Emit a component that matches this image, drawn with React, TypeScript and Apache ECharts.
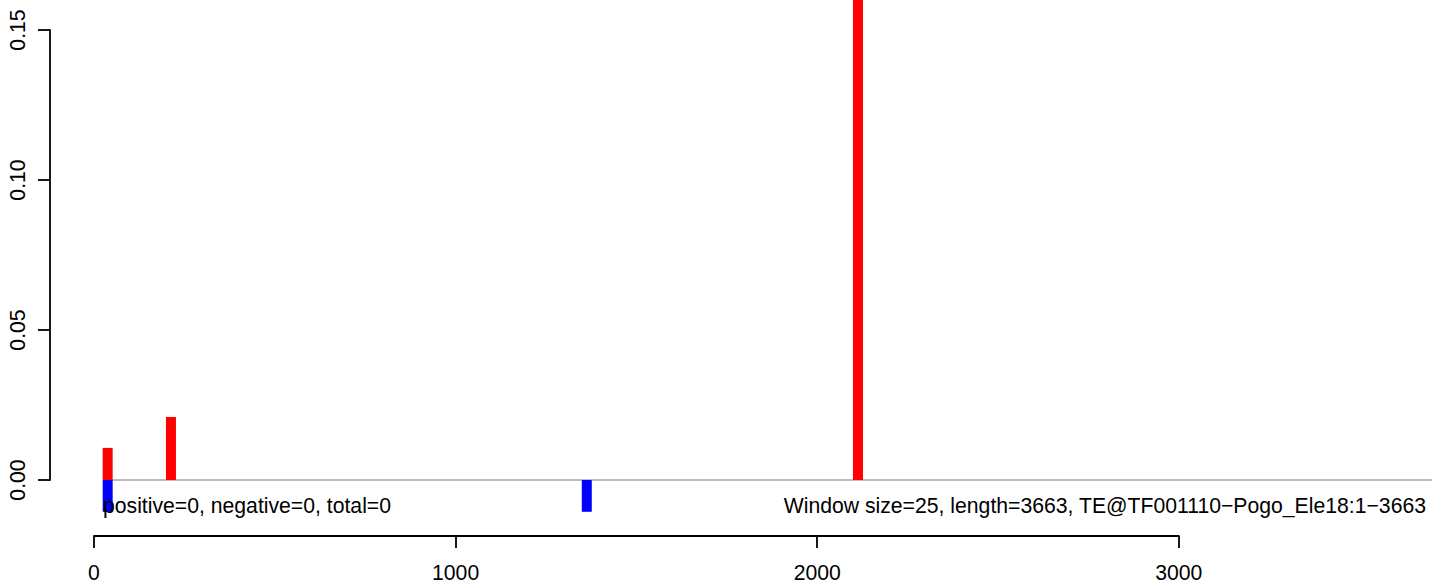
import React, { useEffect, useRef } from "react";
import * as echarts from "echarts";

// window centers (window size = 25)
const positivePositions = [37.5, 212.5, 2112.5];
const positiveValues = [0.0107, 0.021, 0.2];
const negativePositions = [37.5, 1362.5];
const negativeValues = [-0.0106, -0.0106];
const baselineRange = [25, 3700];
const xTicks = [0, 1000, 2000, 3000];
const yTicks = [0, 0.05, 0.1, 0.15];
const leftNote = "positive=0, negative=0, total=0";
const rightNote = "Window size=25, length=3663, TE@TF001110\u2212Pogo_Ele18:1\u22123663";

const FONT = "'Liberation Sans', Arial, Helvetica, sans-serif";
const FS = 21.2;

export default function App() {
  const ref = useRef<HTMLDivElement>(null);
  useEffect(() => {
    if (!ref.current) return;
    const chart = echarts.init(ref.current, undefined, { renderer: "svg" });
    const axisStyle = { color: "#000", width: 1.8 };
    chart.setOption({
      animation: false,
      backgroundColor: "#ffffff",
      grid: [
        { left: 50, right: 3, top: 0, height: 540 },
        { left: 50, width: 1, top: 30, height: 450 },
        { left: 94, width: 1084.8, top: 500, height: 36 },
      ],
      xAxis: [
        { gridIndex: 0, type: "value", min: -122, max: 3700, show: false },
        { gridIndex: 1, type: "value", min: 0, max: 1, show: false },
        {
          gridIndex: 2,
          type: "value",
          min: xTicks[0],
          max: xTicks[xTicks.length - 1],
          interval: 1000,
          position: "bottom",
          axisLine: { show: true, lineStyle: axisStyle },
          axisTick: { show: true, length: 12, lineStyle: axisStyle },
          axisLabel: {
            show: true,
            margin: 26,
            fontSize: FS,
            color: "#000",
            fontFamily: FONT,
            formatter: (v: number) => String(v),
          },
          splitLine: { show: false },
        },
      ],
      yAxis: [
        { gridIndex: 0, type: "value", min: -0.02, max: 0.16, show: false },
        {
          gridIndex: 1,
          type: "value",
          min: yTicks[0],
          max: yTicks[yTicks.length - 1],
          interval: 0.05,
          position: "left",
          axisLine: { show: true, lineStyle: axisStyle },
          axisTick: { show: true, length: 12, lineStyle: axisStyle },
          axisLabel: {
            show: true,
            rotate: 90,
            margin: 22,
            fontSize: FS,
            color: "#000",
            fontFamily: FONT,
            formatter: (v: number) => v.toFixed(2),
          },
          splitLine: { show: false },
        },
        { gridIndex: 2, type: "value", min: 0, max: 1, show: false },
      ],
      series: [
        {
          type: "line",
          xAxisIndex: 0,
          yAxisIndex: 0,
          data: [
            [baselineRange[0], 0],
            [baselineRange[1], 0],
          ],
          symbol: "none",
          lineStyle: { color: "#a6a6a6", width: 1.6 },
          silent: true,
          z: 1,
        },
        {
          type: "bar",
          xAxisIndex: 0,
          yAxisIndex: 0,
          data: positivePositions.map((x, i) => [x, positiveValues[i]]),
          barWidth: 10,
          barGap: "-100%",
          itemStyle: { color: "#ff0000" },
          z: 2,
        },
        {
          type: "bar",
          xAxisIndex: 0,
          yAxisIndex: 0,
          data: negativePositions.map((x, i) => [x, negativeValues[i]]),
          barWidth: 10,
          barGap: "-100%",
          itemStyle: { color: "#0000ff" },
          z: 2,
        },
      ],
      graphic: [
        {
          type: "text",
          x: 103,
          y: 505,
          z: 10,
          style: {
            text: leftNote,
            fontSize: FS,
            fontFamily: FONT,
            fill: "#000",
            textAlign: "left",
            textVerticalAlign: "middle",
          },
        },
        {
          type: "text",
          x: 1426,
          y: 505,
          z: 10,
          style: {
            text: rightNote,
            fontSize: FS,
            fontFamily: FONT,
            fill: "#000",
            textAlign: "right",
            textVerticalAlign: "middle",
          },
        },
      ],
    });
    return () => chart.dispose();
  }, []);
  return (
    <div
      ref={ref}
      style={{ position: "fixed", left: 0, top: 0, width: 1435, height: 586, background: "#fff" }}
    />
  );
}
